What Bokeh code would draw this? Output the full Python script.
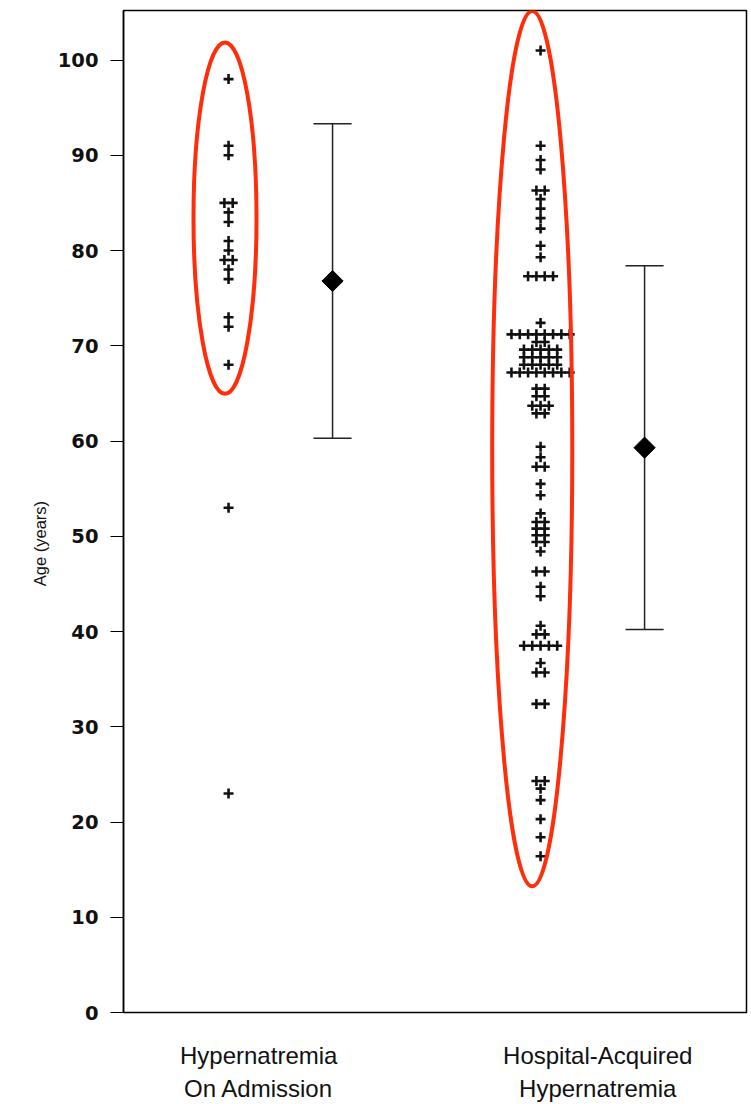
from collections import Counter
from bokeh.plotting import figure
from bokeh.models import Range1d, FixedTicker, LinearAxis, ColumnDataSource
from bokeh.embed import file_html
from bokeh.resources import INLINE

# ---------------- data ----------------
categories = [["Hypernatremia", "On Admission"],
              ["Hospital-Acquired", "Hypernatremia"]]

ages_on_admission = [98, 91, 90, 85, 85, 84, 83, 81, 80, 79, 79, 78, 77,
                     73, 72, 68, 53, 23]

ages_hospital_acquired = [
    101, 91, 89.5, 88.5, 86.3, 86.3, 85.4, 84.4, 83.4, 82.3, 80.5, 79.3,
    77.3, 77.3, 77.3, 77.3,
    72.4,
    71.2, 71.2, 71.2, 71.2, 71.2, 71.2, 71.2, 71.2,
    70.4, 70.4,
    69.6, 69.6, 69.6, 69.6, 69.6,
    68.8, 68.8, 68.8, 68.8, 68.8,
    68.0, 68.0, 68.0, 68.0, 68.0,
    67.2, 67.2, 67.2, 67.2, 67.2, 67.2, 67.2, 67.2,
    65.5, 65.5, 64.7, 64.7, 63.7, 63.7, 63.7, 62.9, 62.9,
    59.4, 58.3, 57.3, 57.3, 55.5, 54.3, 52.4,
    51.5, 51.5, 50.8, 50.8, 50.1, 50.1, 49.4, 49.4,
    48.4, 46.3, 46.3, 44.7, 43.7,
    40.6, 39.7, 39.7, 38.5, 38.5, 38.5, 38.5, 38.5,
    36.7, 35.7, 35.7, 32.4, 32.4,
    24.3, 24.3, 23.5, 22.3, 20.3, 18.4, 16.4,
]

group_means = [76.8, 59.3]
group_sds = [16.5, 19.1]

y_ticks = [0, 10, 20, 30, 40, 50, 60, 70, 80, 90, 100]

# ---------------- layout / style ----------------
point_pos = [1.0, 4.0]      # x of the dot columns
bar_pos = [2.0, 5.0]        # x of mean +/- SD bars
label_pos = [1.29, 4.55]    # x centre of category labels
jitter = 0.08               # side-by-side spacing of equal values
cap_half = 0.183

# hand-drawn red ellipses: (x, y, width, height)
ellipses = [(0.966, 83.4, 0.606, 36.9), (3.92, 59.2, 0.77, 92.0)]

p = figure(width=751, height=1104, output_backend="svg", toolbar_location=None,
           x_range=Range1d(-0.01, 5.98), y_range=Range1d(0, 105.2),
           min_border_left=123, min_border_right=5, min_border_top=10,
           min_border_bottom=88)
p.title.visible = False
p.xgrid.visible = False
p.ygrid.visible = False
p.xaxis.visible = False
p.background_fill_color = "white"
p.border_fill_color = "white"
p.outline_line_color = "black"
p.outline_line_width = 1.5

ya = p.yaxis[0]
ya.ticker = FixedTicker(ticks=y_ticks)
ya.axis_line_width = 1.5
ya.major_tick_out = 13
ya.major_tick_in = 0
ya.major_tick_line_width = 1
ya.minor_tick_out = 0
ya.minor_tick_in = 0
ya.major_label_text_font = "DejaVu Sans"
ya.major_label_text_font_style = "bold"
ya.major_label_text_font_size = "19.5px"
ya.major_label_text_color = "#111111"
ya.major_label_standoff = 12
ya.axis_label = "Age (years)" + "\u00a0" * 14
ya.axis_label_text_font = "Liberation Sans"
ya.axis_label_text_font_style = "normal"
ya.axis_label_text_font_size = "16.5px"
ya.axis_label_text_color = "#111111"
ya.axis_label_standoff = 6

# category labels: two stacked bottom axes, one per text line
for k, standoff in enumerate([29, 3]):
    ax = LinearAxis(ticker=FixedTicker(ticks=label_pos),
                    major_label_overrides={lp: cat[k] for lp, cat in zip(label_pos, categories)},
                    axis_line_color=None, major_tick_line_color=None,
                    minor_tick_line_color=None, major_tick_out=0, major_tick_in=0,
                    major_label_standoff=standoff,
                    major_label_text_font="Liberation Sans",
                    major_label_text_font_size="24px",
                    major_label_text_color="#111111")
    p.add_layout(ax, "below")


def spread(values, center):
    counts = Counter(values)
    seen = Counter()
    xs = []
    for v in values:
        n = counts[v]
        i = seen[v]
        seen[v] += 1
        xs.append(center + (i - (n - 1) / 2) * jitter)
    return xs


xs, ys = [], []
for vals, c in zip([ages_on_admission, ages_hospital_acquired], point_pos):
    xs += spread(vals, c)
    ys += list(vals)

src = ColumnDataSource(dict(x=xs, y=ys))
p.scatter("x", "y", source=src, marker="cross", size=10, line_width=2.6,
          line_color="#111111")

# mean +/- SD bars
lo = [m - s for m, s in zip(group_means, group_sds)]
hi = [m + s for m, s in zip(group_means, group_sds)]
p.segment(x0=bar_pos, y0=lo, x1=bar_pos, y1=hi, line_color="#222222", line_width=1.5)
p.segment(x0=[b - cap_half for b in bar_pos], y0=hi,
          x1=[b + cap_half for b in bar_pos], y1=hi, line_color="#222222", line_width=1.5)
p.segment(x0=[b - cap_half for b in bar_pos], y0=lo,
          x1=[b + cap_half for b in bar_pos], y1=lo, line_color="#222222", line_width=1.5)
p.scatter(x=bar_pos, y=group_means, marker="square", angle=0.785398, size=15,
          fill_color="black", line_color="black")

# red ellipses
p.ellipse(x=[e[0] for e in ellipses], y=[e[1] for e in ellipses],
          width=[e[2] for e in ellipses], height=[e[3] for e in ellipses],
          fill_alpha=0, line_color="#ff2d0a", line_width=4)

open("out.html", "w").write(file_html(p, INLINE))
